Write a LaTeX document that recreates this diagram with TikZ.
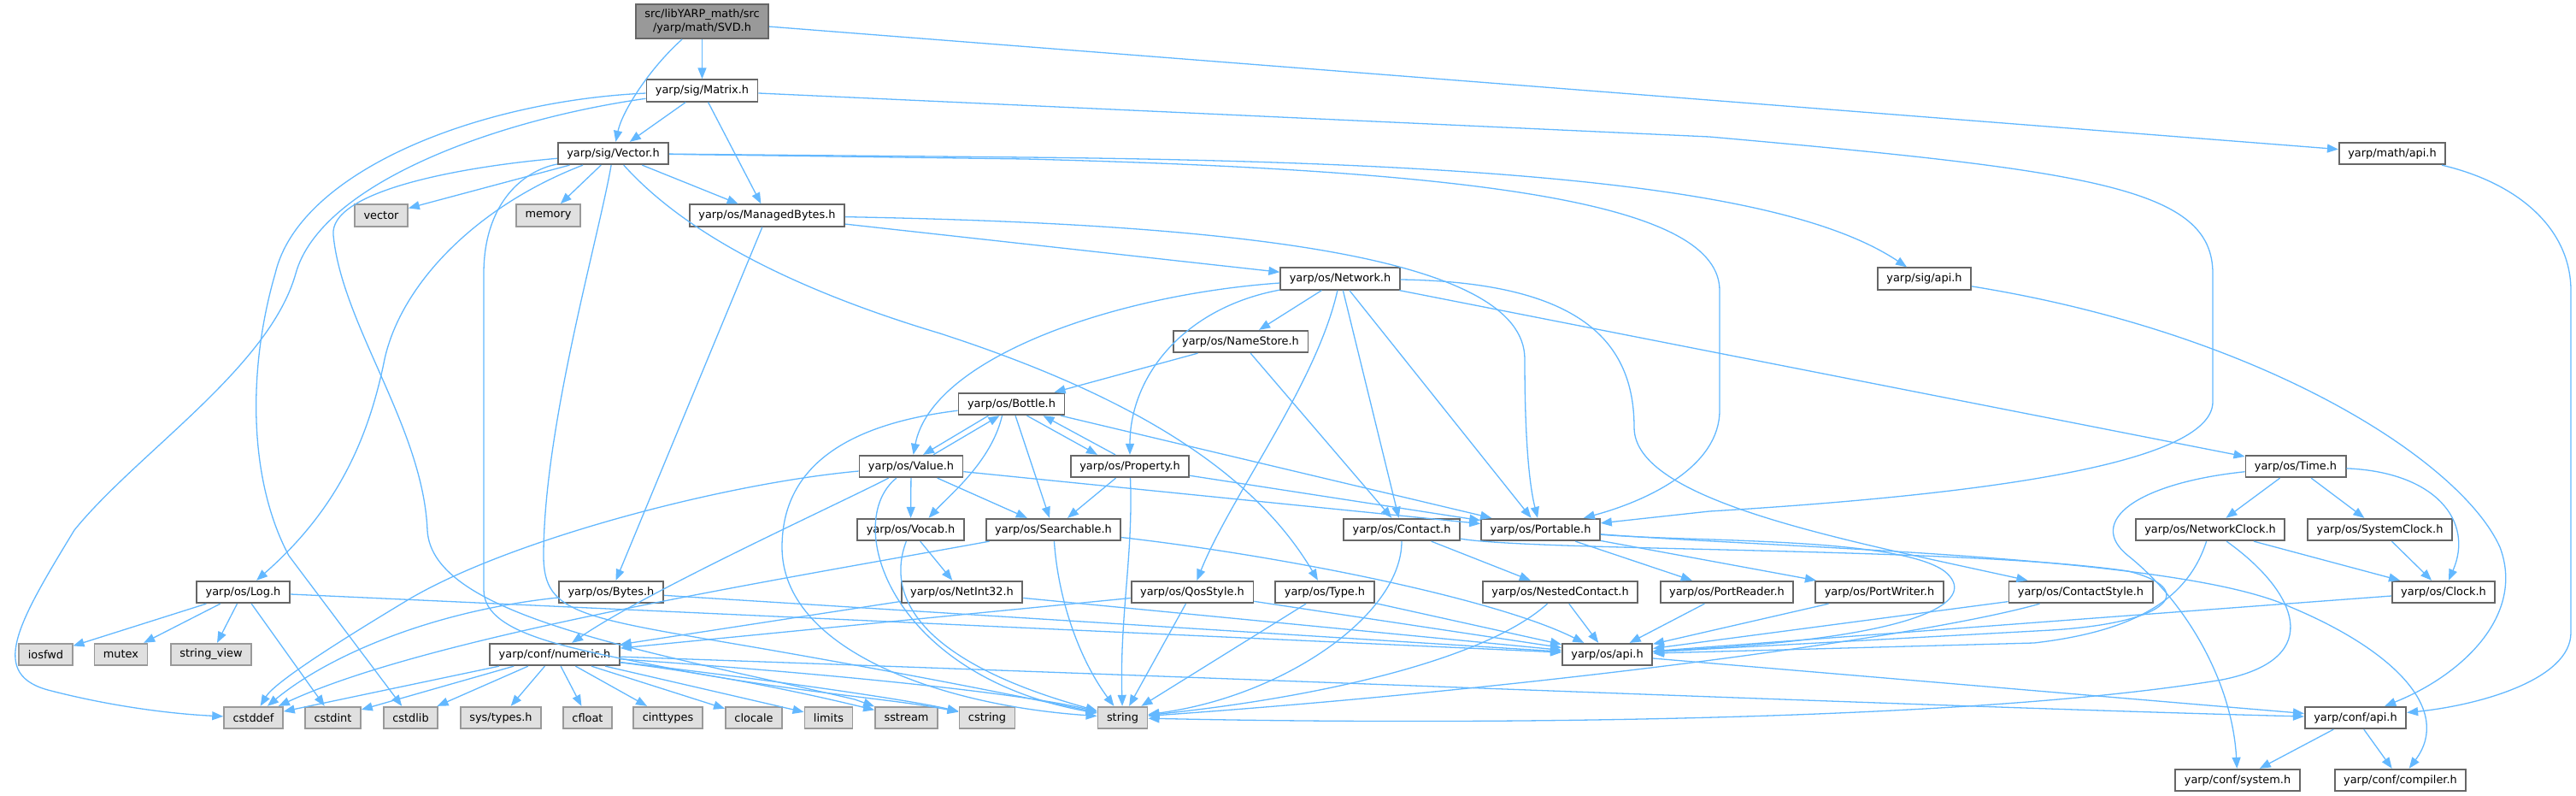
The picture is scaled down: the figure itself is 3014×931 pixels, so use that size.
\documentclass[tikz,border=0pt]{standalone}
\usepackage{fontspec}
\newfontfamily\dvsans{DejaVu Sans}
\usetikzlibrary{arrows.meta}
\definecolor{edgeblue}{HTML}{63B8FF}
\definecolor{boxgray}{HTML}{666666}
\definecolor{sysgray}{HTML}{999999}
\definecolor{sysfill}{HTML}{E0E0E0}
\definecolor{rootfill}{HTML}{999999}

\begin{document}
\begin{tikzpicture}[x=1pt, y=-1pt,
  hdr/.style={draw=boxgray, fill=white, line width=1.8pt, inner xsep=10.5pt,
    inner ysep=0pt, minimum height=25.5pt, font=\dvsans\fontsize{12.9}{15.5}\selectfont},
  syshdr/.style={hdr, draw=sysgray, fill=sysfill},
  roothdr/.style={hdr, fill=rootfill, align=center, minimum height=40pt},
  dep/.style={-{Triangle[length=13pt,width=10pt]}, draw=edgeblue, line width=1.3pt}
]
\useasboundingbox (0,0) rectangle (3014,931);

% headers, row by row
\node[roothdr] (svd) at (821.5,25) {src/libYARP\_math/src\\/yarp/math/SVD.h};
\node[hdr] (matrix) at (821.5,106) {yarp/sig/Matrix.h};
\node[hdr] (vectorh) at (717.5,179.5) {yarp/sig/Vector.h};
\node[hdr] (mathapi) at (2799,179.5) {yarp/math/api.h};
\node[syshdr] (stdvector) at (446,252) {vector};
\node[syshdr] (memory) at (641.5,252) {memory};
\node[hdr] (managedbytes) at (897.5,252) {yarp/os/ManagedBytes.h};
\node[hdr] (network) at (1568,326) {yarp/os/Network.h};
\node[hdr] (sigapi) at (2251.5,326) {yarp/sig/api.h};
\node[hdr] (namestore) at (1451.5,399.5) {yarp/os/NameStore.h};
\node[hdr] (bottle) at (1183.5,472.5) {yarp/os/Bottle.h};
\node[hdr] (value) at (1066,545.5) {yarp/os/Value.h};
\node[hdr] (property) at (1322,545.5) {yarp/os/Property.h};
\node[hdr] (timeh) at (2686,545.5) {yarp/os/Time.h};
\node[hdr] (vocab) at (1065.5,619.5) {yarp/os/Vocab.h};
\node[hdr] (searchable) at (1232.5,619.5) {yarp/os/Searchable.h};
\node[hdr] (contact) at (1640,619.5) {yarp/os/Contact.h};
\node[hdr] (portable) at (1802.5,619.5) {yarp/os/Portable.h};
\node[hdr] (networkclock) at (2586,619.5) {yarp/os/NetworkClock.h};
\node[hdr] (systemclock) at (2784.5,619.5) {yarp/os/SystemClock.h};
\node[hdr] (log) at (284.5,692.5) {yarp/os/Log.h};
\node[hdr] (bytes) at (715,692.5) {yarp/os/Bytes.h};
\node[hdr] (netint) at (1125.5,692.5) {yarp/os/NetInt32.h};
\node[hdr] (qosstyle) at (1395,692.5) {yarp/os/QosStyle.h};
\node[hdr] (typeh) at (1550,692.5) {yarp/os/Type.h};
\node[hdr] (nestedcontact) at (1825.5,692.5) {yarp/os/NestedContact.h};
\node[hdr] (portreader) at (2020.5,692.5) {yarp/os/PortReader.h};
\node[hdr] (portwriter) at (2199,692.5) {yarp/os/PortWriter.h};
\node[hdr] (contactstyle) at (2434.5,692.5) {yarp/os/ContactStyle.h};
\node[hdr] (clock) at (2859,692.5) {yarp/os/Clock.h};
\node[syshdr] (iosfwd) at (53.5,765.5) {iosfwd};
\node[syshdr] (mutex) at (141.5,765.5) {mutex};
\node[syshdr] (stringview) at (247,765.5) {string\_view};
\node[hdr] (numeric) at (649,765.5) {yarp/conf/numeric.h};
\node[hdr] (osapi) at (1880.5,765.5) {yarp/os/api.h};
\node[syshdr] (cstddef) at (296.5,839.5) {cstddef};
\node[syshdr] (cstdint) at (389.5,839.5) {cstdint};
\node[syshdr] (cstdlib) at (480.5,839.5) {cstdlib};
\node[syshdr] (systypes) at (586,839.5) {sys/types.h};
\node[syshdr] (cfloat) at (687.5,839.5) {cfloat};
\node[syshdr] (cinttypes) at (781.5,839.5) {cinttypes};
\node[syshdr] (clocale) at (882,839.5) {clocale};
\node[syshdr] (limits) at (969.5,839.5) {limits};
\node[syshdr] (sstream) at (1060.5,839.5) {sstream};
\node[syshdr] (cstring) at (1155,839.5) {cstring};
\node[syshdr] (string) at (1313.5,839.5) {string};
\node[hdr] (confapi) at (2756,839.5) {yarp/conf/api.h};
\node[hdr] (confsystem) at (2618,912.5) {yarp/conf/system.h};
\node[hdr] (confcompiler) at (2808.5,912.5) {yarp/conf/compiler.h};

% SVD.h and Matrix.h
\draw[dep] (svd) -- (matrix);
\draw[dep] (svd) .. controls (760,80) and (728,130) .. (vectorh);
\draw[dep] (svd) -- (mathapi);
\draw[dep] (matrix) -- (vectorh);
\draw[dep] (matrix) -- (managedbytes);
\draw[dep] (matrix) -- (2000,160) .. controls (2450,200) and (2589,220) .. (2589,320) -- (2589,470) .. controls (2589,545) and (2300,580) .. (2000,598) -- (portable);
\draw[dep] (matrix) .. controls (560,118) and (350,200) .. (322,320) .. controls (290,430) and (290,560) .. (338,650) -- (cstdlib);
\draw[dep] (matrix) .. controls (580,140) and (375,215) .. (346,320) .. controls (315,430) and (160,530) .. (87,620) .. controls (20,730) and (-15,790) .. (60,808) .. controls (130,826) and (200,835) .. (cstddef);

% Vector.h
\draw[dep] (vectorh) -- (stdvector);
\draw[dep] (vectorh) -- (memory);
\draw[dep] (vectorh) -- (managedbytes);
\draw[dep] (vectorh) .. controls (560,240) and (470,330) .. (450,420) .. controls (430,520) and (390,600) .. (log);
\draw[dep] (vectorh) .. controls (790,260) and (900,330) .. (1100,390) .. controls (1300,455) and (1460,540) .. (typeh);
\draw[dep] (vectorh) -- (1200,184) .. controls (1800,190) and (2100,225) .. (sigapi);
\draw[dep] (vectorh) -- (1200,186) .. controls (1750,200) and (2012,240) .. (2012,340) -- (2012,480) .. controls (2012,545) and (1930,585) .. (portable);
\draw[dep] (vectorh) .. controls (530,196) and (385,225) .. (390,275) .. controls (400,380) and (495,500) .. (500,620) .. controls (505,720) and (750,760) .. (1000,818) -- (sstream);
\draw[dep] (vectorh) .. controls (610,200) and (566,240) .. (566,320) -- (566,690) .. controls (566,745) and (680,760) .. (800,785) .. controls (950,812) and (1050,818) .. (cstring);
\draw[dep] (vectorh) .. controls (700,280) and (636,500) .. (636,650) .. controls (636,720) and (680,722) .. (900,760) .. controls (1100,795) and (1220,820) .. (string);

% ManagedBytes.h and Network.h
\draw[dep] (managedbytes) -- (bytes);
\draw[dep] (managedbytes) -- (network);
\draw[dep] (managedbytes) .. controls (1450,262) and (1784,300) .. (1784,420) .. controls (1784,520) and (1790,570) .. (portable);
\draw[dep] (network) -- (namestore);
\draw[dep] (network) -- (contact);
\draw[dep] (network) -- (portable);
\draw[dep] (network) .. controls (1300,345) and (1090,420) .. (value);
\draw[dep] (network) .. controls (1385,360) and (1322,440) .. (property);
\draw[dep] (network) .. controls (1540,450) and (1440,580) .. (qosstyle);
\draw[dep] (network) -- (timeh);
\draw[dep] (network) .. controls (1850,330) and (1912,400) .. (1912,500) .. controls (1912,585) and (2150,630) .. (contactstyle);
\draw[dep] (namestore) -- (bottle);
\draw[dep] (namestore) -- (contact);

% Bottle.h, Value.h, Property.h
\draw[dep] ([xshift=-27pt]bottle.south) -- ([xshift=14pt]value.north);
\draw[dep] ([xshift=26pt]value.north) -- ([xshift=-14pt]bottle.south);
\draw[dep] ([xshift=18pt]bottle.south) -- ([xshift=-38pt]property.north);
\draw[dep] ([xshift=-17pt]property.north) -- ([xshift=37pt]bottle.south);
\draw[dep] (bottle) -- (searchable);
\draw[dep] (bottle) -- (portable);
\draw[dep] ([xshift=-11pt]bottle.south) .. controls (1160,540) and (1110,580) .. ([xshift=21pt]vocab.north);
\draw[dep] (bottle) .. controls (1000,495) and (915,540) .. (915,640) .. controls (915,760) and (1100,825) .. (string);
\draw[dep] (value) -- (vocab);
\draw[dep] (value) -- (searchable);
\draw[dep] (value) -- (portable);
\draw[dep] (value) .. controls (980,590) and (760,690) .. (numeric);
\draw[dep] (value) .. controls (850,565) and (600,630) .. (480,700) .. controls (380,760) and (320,800) .. (cstddef);
\draw[dep] (value) .. controls (985,610) and (1040,790) .. (string);
\draw[dep] (property) -- (searchable);
\draw[dep] (property) -- (portable);
\draw[dep] (property) .. controls (1326,650) and (1310,720) .. (string);
\draw[dep] (searchable) .. controls (1238,700) and (1262,770) .. (string);
\draw[dep] (searchable) .. controls (1500,650) and (1750,700) .. (osapi);
\draw[dep] (searchable) .. controls (900,680) and (500,745) .. (cstddef);
\draw[dep] (vocab) -- (netint);
\draw[dep] (vocab) .. controls (1035,700) and (1080,775) .. (string);
\draw[dep] (netint) -- (numeric);
\draw[dep] (netint) -- (osapi);
\draw[dep] (qosstyle) -- (osapi);
\draw[dep] (qosstyle) -- (string);
\draw[dep] (qosstyle) -- (numeric);
\draw[dep] (typeh) -- (osapi);
\draw[dep] (typeh) -- (string);

% Contact.h, Portable.h and the port headers
\draw[dep] (contact) -- (nestedcontact);
\draw[dep] (contact) .. controls (1640,720) and (1500,815) .. (string);
\draw[dep] ([yshift=3pt]contact.south east) .. controls (1800,645) and (2300,640) .. (2490,668) .. controls (2570,688) and (2545,728) .. (2400,737) -- (osapi);
\draw[dep] (portable) -- (portreader);
\draw[dep] (portable) -- (portwriter);
\draw[dep] (portable) .. controls (1980,634) and (2220,628) .. (2275,668) .. controls (2315,700) and (2260,742) .. (2000,758) -- (osapi);
\draw[dep] (portable) .. controls (2100,642) and (2550,650) .. (2680,710) .. controls (2800,760) and (2870,830) .. (confcompiler);
\draw[dep] (nestedcontact) -- (osapi);
\draw[dep] (nestedcontact) .. controls (1740,770) and (1550,815) .. (string);
\draw[dep] (portreader) -- (osapi);
\draw[dep] (portwriter) -- (osapi);
\draw[dep] (contactstyle) -- (osapi);
\draw[dep] (contactstyle) .. controls (2250,745) and (1800,805) .. (string);

% Time.h and the clocks
\draw[dep] (timeh) -- (networkclock);
\draw[dep] (timeh) -- (systemclock);
\draw[dep] (timeh) .. controls (2850,552) and (2895,610) .. (clock);
\draw[dep] (timeh) .. controls (2500,565) and (2440,610) .. (2490,650) .. controls (2560,706) and (2612,800) .. (confsystem);
\draw[dep] (networkclock) -- (clock);
\draw[dep] (networkclock) .. controls (2560,700) and (2500,738) .. (2380,752) -- (osapi);
\draw[dep] (networkclock) .. controls (2685,690) and (2725,770) .. (2600,795) .. controls (2300,845) and (1700,848) .. (string);
\draw[dep] (systemclock) -- (clock);
\draw[dep] (clock) -- (osapi);

% Log.h, Bytes.h, numeric.h
\draw[dep] (log) -- (iosfwd);
\draw[dep] (log) -- (mutex);
\draw[dep] (log) -- (stringview);
\draw[dep] (log) -- (cstdint);
\draw[dep] (log) -- (osapi);
\draw[dep] (bytes) .. controls (500,715) and (380,770) .. (cstddef);
\draw[dep] (bytes) -- (osapi);
\draw[dep] (numeric) -- (cstddef);
\draw[dep] (numeric) -- (cstdint);
\draw[dep] (numeric) -- (cstdlib);
\draw[dep] (numeric) -- (systypes);
\draw[dep] (numeric) -- (cfloat);
\draw[dep] (numeric) -- (cinttypes);
\draw[dep] (numeric) -- (clocale);
\draw[dep] (numeric) -- (limits);
\draw[dep] (numeric) .. controls (850,790) and (960,815) .. (sstream);
\draw[dep] (numeric) .. controls (900,795) and (1060,818) .. (cstring);
\draw[dep] (numeric) .. controls (1000,790) and (1200,812) .. (string);
\draw[dep] (numeric) .. controls (1500,795) and (2300,828) .. (confapi);

% api headers
\draw[dep] (osapi) -- (confapi);
\draw[dep] (mathapi) .. controls (2950,215) and (3008,270) .. (3008,340) -- (3008,740) .. controls (3008,795) and (2900,825) .. (confapi);
\draw[dep] (sigapi) .. controls (2650,390) and (2880,540) .. (2925,640) .. controls (2955,720) and (2880,790) .. (confapi);
\draw[dep] (confapi) -- (confsystem);
\draw[dep] (confapi) -- (confcompiler);
\end{tikzpicture}
\end{document}
